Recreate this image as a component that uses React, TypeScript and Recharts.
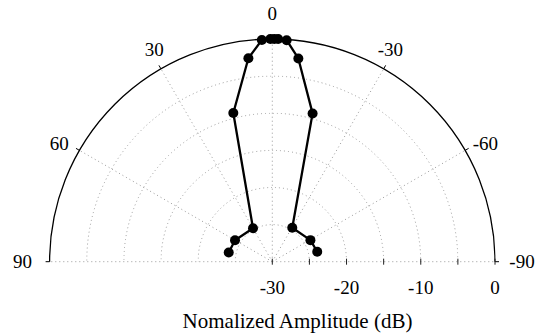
import { RadarChart, Radar, PolarGrid, PolarAngleAxis, PolarRadiusAxis } from 'recharts'

// beam pattern, left (+) to right (-)
const angles = [78, 60, 30, 14.7, 6.7, 2.7, 0.5, -0.5, -1.5, -3.7, -7.3, -15.2, -30.5, -60.5, -77.5]
const amplitude = [-24, -24.2, -24.8, -9.3, -2.4, -0.1, 0, 0, 0, -0.1, -2.4, -9.3, -24.7, -24.1, -23.8]

const angleTicks = [-90, -60, -30, 0, 30, 60, 90]
const radiusTicks = [-30, -25, -20, -15, -10, -5, 0]

const data = angles.map((a, i) => ({ angle: a, db: amplitude[i] }))

const FONT = 'Liberation Serif, Tinos, Times New Roman, Times, DejaVu Serif, serif'

function AngleTick(props: any) {
  const { x, y, payload } = props
  const a = (payload.coordinate * Math.PI) / 180
  const c = Math.cos(a)
  const s = Math.sin(a)
  // step back to the arc, then push the label out
  const px = x - 4 * c + 27 * c * Math.abs(c)
  const py = y + 4 * s - 26 * s * Math.abs(s)
  return (
    <text x={px} y={py} textAnchor="middle" dominantBaseline="central" fontSize={19} fill="#000" style={{ fontFamily: FONT }}>
      {payload.value}
    </text>
  )
}

function RadiusTick(props: any) {
  const { x, y, payload } = props
  const v = payload.value
  return (
    <g>
      <line x1={x} y1={y - 3} x2={x} y2={y + 3} stroke="#222" strokeWidth={1} />
      {v % 10 === 0 && (
        <text x={x} y={y + 26} textAnchor="middle" dominantBaseline="central" fontSize={19} fill="#000" style={{ fontFamily: FONT }}>
          {v}
        </text>
      )}
    </g>
  )
}

function OpenLine(props: any) {
  const pts = props.points || []
  const d = pts.map((p: any, i: number) => `${i ? 'L' : 'M'}${p.x},${p.y}`).join(' ')
  return <path d={d} fill="none" stroke="#000" strokeWidth={2.3} strokeLinejoin="round" />
}

export default function App() {
  return (
    <div className="polar-wrap" style={{ position: 'absolute', left: 0, top: 0, width: 545, height: 333, background: '#fff', fontFamily: FONT }}>
      <style>{`
        .polar-wrap, .polar-wrap text { font-family: ${FONT}; }
        .polar-wrap .recharts-polar-grid-concentric circle { clip-path: inset(0 0 50% 0); }
        .polar-wrap .recharts-polar-grid-concentric circle:last-child { stroke: #000; stroke-dasharray: none; stroke-width: 1.3; }
      `}</style>
      <RadarChart width={545} height={333} data={data} cx={272.3} cy={261.7} innerRadius={0} outerRadius={222.7} startAngle={0} endAngle={180}>
        <PolarGrid gridType="circle" stroke="#9a9a9a" strokeDasharray="1 3" />
        <PolarAngleAxis type="number" dataKey="angle" domain={[-90, 90]} ticks={angleTicks} axisLine={false} tickSize={4} tickLine={{ stroke: '#000' }} tick={<AngleTick />} />
        <PolarRadiusAxis type="number" angle={0} domain={[-30, 0]} ticks={radiusTicks} axisLine={false} tick={<RadiusTick />} />
        <Radar dataKey="db" isAnimationActive={false} shape={<OpenLine />} dot={{ r: 5, fill: '#000', stroke: '#000', strokeWidth: 0 }} />
      </RadarChart>
      <div style={{ position: 'absolute', left: 0, width: 545, top: 308, textAlign: 'center', paddingLeft: 50, boxSizing: 'border-box', fontSize: 21, lineHeight: '26px', color: '#000' }}>
        Nomalized Amplitude (dB)
      </div>
    </div>
  )
}
